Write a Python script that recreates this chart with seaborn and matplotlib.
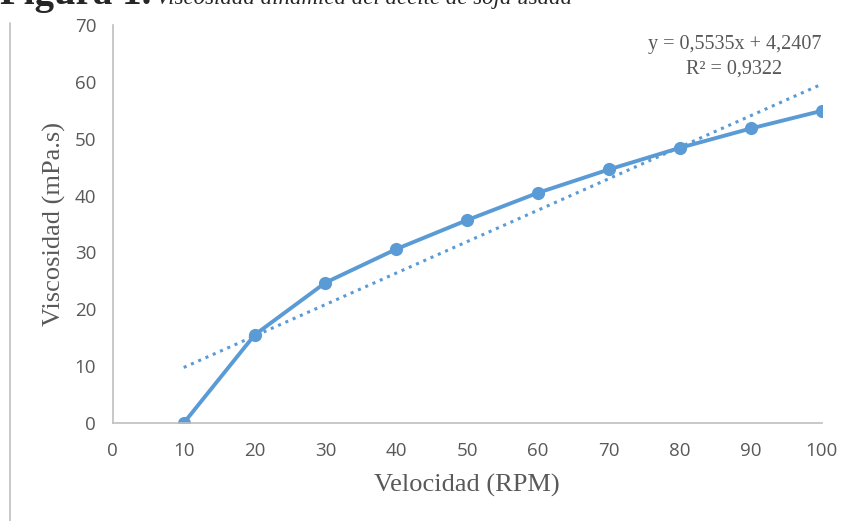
import numpy as np
import matplotlib
matplotlib.use("Agg")
import matplotlib.pyplot as plt
import seaborn as sns
from matplotlib.lines import Line2D

velocidad = [10, 20, 30, 40, 50, 60, 70, 80, 90, 100]
viscosidad = [0.0, 15.5, 24.7, 30.6, 35.7, 40.5, 44.6, 48.4, 51.8, 54.9]
pendiente = 0.5535
intercepto = 4.2407
r2 = 0.9322

sns.set_style("white")
plt.rcParams["font.family"] = ["Open Sans", "DejaVu Sans"]

azul = "#5B9BD5"
gris = "#595959"

fig = plt.figure(figsize=(8.55, 5.21), dpi=100)
ax = fig.add_axes([0.132, 0.188, 0.829, 0.764])

sns.lineplot(x=velocidad, y=viscosidad, ax=ax, color=azul, linewidth=2.8,
             marker="o", markersize=9.5, markeredgewidth=0)

# linea de tendencia (ajuste lineal)
xt = np.array([velocidad[0], velocidad[-1]])
ax.plot(xt, pendiente * xt + intercepto, color=azul, linestyle=(0, (1, 1.6)),
        linewidth=2.2)

ax.set_xlim(0, 100)
ax.set_ylim(0, 70)
ax.set_xticks(range(0, 101, 10))
ax.set_yticks(range(0, 71, 10))
ax.tick_params(axis="both", length=0, labelsize=13.5, labelcolor=gris)
ax.tick_params(axis="x", pad=14)
ax.tick_params(axis="y", pad=12)
for s in ["top", "right"]:
    ax.spines[s].set_visible(False)
for s in ["left", "bottom"]:
    ax.spines[s].set_color("#BFBFBF")
    ax.spines[s].set_linewidth(1.2)
for lab in ax.get_xticklabels() + ax.get_yticklabels():
    lab.set_clip_on(False)

ax.set_xlabel("Velocidad (RPM)", fontsize=19, color=gris,
              family="Liberation Serif", labelpad=10)
ax.set_ylabel("Viscosidad (mPa.s)", fontsize=19, color=gris,
              family="Liberation Serif", labelpad=6)

eq = f"y = {pendiente:.4f}x + {intercepto:.4f}".replace(".", ",")
rr = f"R² = {r2:.4f}".replace(".", ",")
ax.text(0.877, 0.975, eq + "\n" + rr, transform=ax.transAxes, ha="center",
        va="top", fontsize=14.5, color=gris, family="Liberation Serif",
        linespacing=1.4)

fig.text(0.0, 0.992, "Figura 1.", fontsize=28, fontweight="bold",
         family="Liberation Serif", va="baseline", ha="left")
fig.text(0.182, 0.992, "Viscosidad dinámica del aceite de soja usada",
         fontsize=16.5, fontstyle="italic", family="Liberation Serif",
         va="baseline", ha="left")

fig.add_artist(Line2D([0.012, 0.012], [0.0, 0.955], color="#BFBFBF",
                      linewidth=1.2, transform=fig.transFigure))

fig.savefig("out.png", dpi=100)
